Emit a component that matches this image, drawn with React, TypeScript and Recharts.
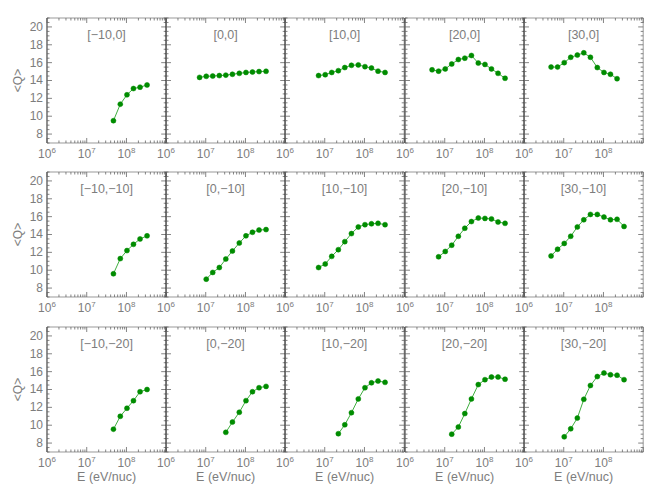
import { LineChart, Line, XAxis, YAxis } from "recharts";

// energy grid (eV/nuc) shared by all panels
const energy = [4.8e6, 7.0e6, 1.03e7, 1.5e7, 2.2e7, 3.2e7, 4.7e7, 7.0e7, 1.03e8, 1.5e8, 2.2e8, 3.3e8];

// <Q> per panel, first value sits at energy[start]
const qM10_0 = [9.5, 11.35, 12.4, 13.1, 13.25, 13.5];
const q0_0 = [14.35, 14.47, 14.5, 14.55, 14.6, 14.7, 14.8, 14.9, 14.95, 15.0, 15.03];
const q10_0 = [14.55, 14.65, 14.9, 15.1, 15.45, 15.7, 15.75, 15.55, 15.4, 15.05, 14.9];
const q20_0 = [15.2, 15.05, 15.3, 15.85, 16.35, 16.5, 16.8, 15.95, 15.8, 15.3, 14.8, 14.25];
const q30_0 = [15.5, 15.5, 16.0, 16.6, 16.85, 17.1, 16.6, 15.45, 14.9, 14.7, 14.2];
const qM10_M10 = [9.6, 11.3, 12.2, 12.9, 13.5, 13.85];
const q0_M10 = [9.0, 9.75, 10.3, 11.25, 12.15, 13.05, 13.85, 14.25, 14.5, 14.55];
const q10_M10 = [10.3, 10.7, 11.55, 12.3, 13.2, 14.1, 14.85, 15.1, 15.2, 15.25, 15.1];
const q20_M10 = [11.5, 12.1, 12.8, 13.8, 14.7, 15.45, 15.85, 15.8, 15.75, 15.4, 15.25];
const q30_M10 = [11.6, 12.35, 13.0, 13.8, 14.85, 15.65, 16.25, 16.25, 15.95, 15.65, 15.7, 14.9];
const qM10_M20 = [9.55, 11.0, 11.9, 12.75, 13.75, 14.0];
const q0_M20 = [9.2, 10.35, 11.45, 12.75, 13.75, 14.2, 14.35];
const q10_M20 = [9.05, 10.05, 11.4, 12.95, 14.2, 14.75, 14.95, 14.8];
const q20_M20 = [9.0, 9.8, 11.3, 12.95, 14.55, 15.1, 15.4, 15.4, 15.15];
const q30_M20 = [8.7, 9.6, 10.8, 12.9, 14.45, 15.45, 15.85, 15.65, 15.6, 15.1];

const titles = [
  ["[\u221210,0]", "[0,0]", "[10,0]", "[20,0]", "[30,0]"],
  ["[\u221210,\u221210]", "[0,\u221210]", "[10,\u221210]", "[20,\u221210]", "[30,\u221210]"],
  ["[\u221210,\u221220]", "[0,\u221220]", "[10,\u221220]", "[20,\u221220]", "[30,\u221220]"],
];
const series = [
  [qM10_0, q0_0, q10_0, q20_0, q30_0],
  [qM10_M10, q0_M10, q10_M10, q20_M10, q30_M10],
  [qM10_M20, q0_M20, q10_M20, q20_M20, q30_M20],
];
const starts = [
  [6, 1, 1, 0, 0],
  [6, 2, 1, 1, 0],
  [6, 5, 4, 3, 2],
];

const yMajor = [8, 10, 12, 14, 16, 18, 20];
const yTicks: number[] = [];
for (let v = 7; v <= 21; v += 0.5) yTicks.push(v);
const xTicks: number[] = [];
for (const d of [6, 7, 8]) for (let m = 1; m <= 9; m++) xTicks.push(m * Math.pow(10, d));
xTicks.push(1e9);

const PW = 119.2;
const PH = 125;
// margins around the plot area; axes take 1px each on top of these
const ML = 39, MR = 6, MT = 5, MB = 40;
const OL = ML + 1, OT = MT + 1;
const FONT = "'Liberation Sans', Arial, sans-serif";
const GREY = "#7d7d7d";

function XTick(props: any) {
  const { x, y, payload, top, labels } = props;
  const v = payload.value;
  const exp = Math.round(Math.log10(v));
  const major = Math.abs(v - Math.pow(10, exp)) < 1e-6 * v;
  const len = major ? 5 : 2.5;
  const dir = top ? 1 : -1;
  return (
    <g>
      <line x1={x} x2={x} y1={y} y2={y + dir * len} stroke="#666" strokeWidth={0.8} />
      {!top && labels && major && exp < 9 && (
        <text x={x} y={y + 15} textAnchor="middle" fill={GREY} fontSize={12} fontFamily={FONT}>
          10<tspan dy={-5} fontSize={8}>{exp}</tspan>
        </text>
      )}
    </g>
  );
}

function YTick(props: any) {
  const { x, y, payload, right, labels } = props;
  const v = payload.value;
  const major = yMajor.includes(v);
  const len = major ? 5 : 2.5;
  const dir = right ? -1 : 1;
  return (
    <g>
      <line x1={x} x2={x + dir * len} y1={y} y2={y} stroke="#666" strokeWidth={0.8} />
      {!right && labels && major && (
        <text x={x - 4} y={y + 4} textAnchor="end" fill={GREY} fontSize={12} fontFamily={FONT}>
          {v}
        </text>
      )}
    </g>
  );
}

function Panel({ row, col }: { row: number; col: number }) {
  const start = starts[row][col];
  const data = series[row][col].map((q, i) => ({ e: energy[start + i], q }));
  const left = 47 + col * PW;
  const top = 18 + row * 154.3;
  return (
    <div style={{ position: "absolute", left: left - OL, top: top - OT }}>
      <LineChart
        width={PW + ML + MR + 2}
        height={PH + MT + MB + 2}
        data={data}
        margin={{ top: MT, right: MR, bottom: MB, left: ML }}
      >
        <XAxis
          xAxisId="b"
          dataKey="e"
          type="number"
          scale="log"
          domain={[1e6, 1e9]}
          ticks={xTicks}
          interval={0}
          height={1}
          tickSize={0}
          tickMargin={0}
          tickLine={false}
          axisLine={{ stroke: "#999" }}
          tick={<XTick labels />}
          allowDataOverflow
        />
        <XAxis
          xAxisId="t"
          orientation="top"
          dataKey="e"
          type="number"
          scale="log"
          domain={[1e6, 1e9]}
          ticks={xTicks}
          interval={0}
          height={1}
          tickSize={0}
          tickMargin={0}
          tickLine={false}
          axisLine={{ stroke: "#999" }}
          tick={<XTick top />}
          allowDataOverflow
        />
        <YAxis
          yAxisId="r"
          orientation="right"
          type="number"
          domain={[7, 21]}
          ticks={yTicks}
          interval={0}
          width={1}
          tickSize={0}
          tickMargin={0}
          tickLine={false}
          axisLine={{ stroke: "#999" }}
          tick={<YTick right />}
          allowDataOverflow
        />
        <YAxis
          yAxisId="l"
          type="number"
          domain={[7, 21]}
          ticks={yTicks}
          interval={0}
          width={1}
          tickSize={0}
          tickMargin={0}
          tickLine={false}
          axisLine={{ stroke: "#222" }}
          tick={<YTick labels={col === 0} />}
          allowDataOverflow
        />
        <Line
          xAxisId="b"
          yAxisId="l"
          dataKey="q"
          stroke="#3fae3f"
          strokeWidth={1}
          dot={{ r: 2.5, fill: "#008c00", stroke: "#008c00", strokeWidth: 0.5 }}
          isAnimationActive={false}
        />
        <text
          x={OL + PW / 2}
          y={OT + 21}
          textAnchor="middle"
          fill={GREY}
          fontSize={12.5}
          fontFamily={FONT}
        >
          {titles[row][col]}
        </text>
        {col === 0 && (
          <text
            x={OL - 25}
            y={OT + PH / 2}
            textAnchor="middle"
            fill={GREY}
            fontSize={12}
            fontFamily={FONT}
            transform={`rotate(-90 ${OL - 25} ${OT + PH / 2})`}
          >
            {"<Q>"}
          </text>
        )}
        {row === 2 && (
          <text
            x={OL + PW / 2}
            y={OT + PH + 29}
            textAnchor="middle"
            fill={GREY}
            fontSize={12.5}
            fontFamily={FONT}
          >
            E (eV/nuc)
          </text>
        )}
      </LineChart>
    </div>
  );
}

export default function App() {
  const cells = [];
  for (let r = 0; r < 3; r++) for (let c = 0; c < 5; c++) cells.push(<Panel key={`${r}-${c}`} row={r} col={c} />);
  return (
    <div style={{ position: "absolute", left: 0, top: 0, width: 670, height: 489, background: "#fff" }}>
      {cells}
    </div>
  );
}
